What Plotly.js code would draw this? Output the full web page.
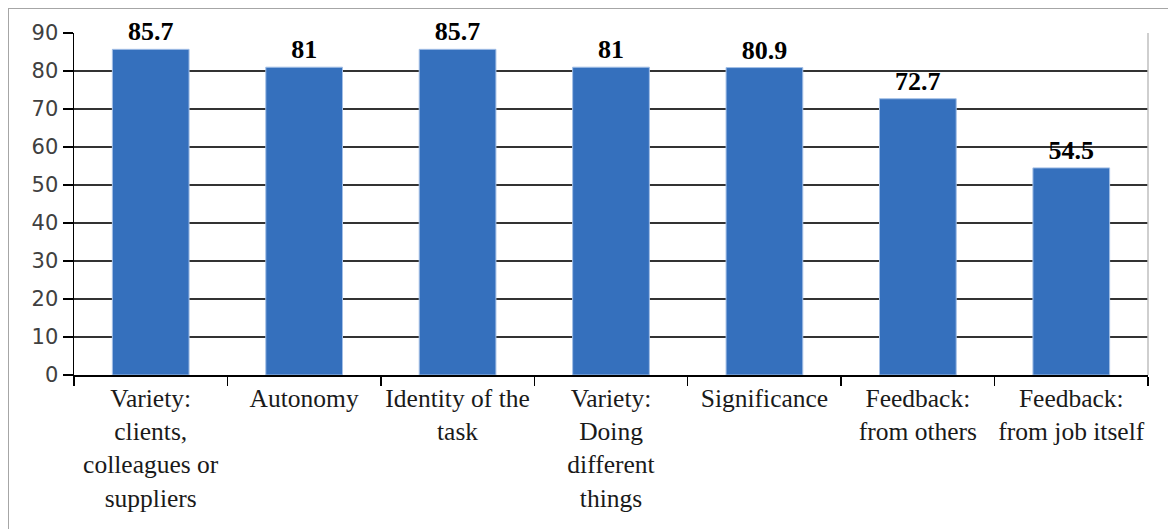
<!DOCTYPE html>
<html>
<head>
<meta charset="utf-8">
<script src="https://cdn.plot.ly/plotly-3.0.1.min.js"></script>
<style>
  body { margin: 0; overflow: hidden; background: #fff; }
  #graph { position: absolute; left: 0; top: 0; width: 1168px; height: 529px; }
  #frame { position: absolute; left: 8px; top: 8px; width: 1200px; height: 600px;
           border: 1px solid #a6a6a6; pointer-events: none; }
</style>
</head>
<body>
<div id="graph"></div>
<div id="frame"></div>
<script>
// categories (line breaks as on the original axis)
var categories = [
  'Variety:<br>clients,<br>colleagues or<br>suppliers',
  'Autonomy',
  'Identity of the<br>task',
  'Variety:<br>Doing<br>different<br>things',
  'Significance',
  'Feedback:<br>from others',
  'Feedback:<br>from job itself'
]
var values = [85.7, 81, 85.7, 81, 80.9, 72.7, 54.5]
var yTicks = [0, 10, 20, 30, 40, 50, 60, 70, 80, 90]

var trace_bars = {
  type: 'bar',
  x: categories,
  y: values,
  text: values.map(String),
  textposition: 'outside',
  cliponaxis: false,
  textfont: { family: 'Liberation Serif, serif', size: 26, color: '#000', weight: 'bold' },
  marker: { color: '#3570bd', line: { color: '#a3bfe6', width: 1 } },
  hoverinfo: 'skip'
}

var layout = {
  width: 1168,
  height: 529,
  margin: { l: 74, r: 20, t: 33, b: 154, pad: 0 },
  showlegend: false,
  bargap: 0.5,
  paper_bgcolor: 'rgba(255,255,255,0)',
  plot_bgcolor: '#fff',
  xaxis: {
    type: 'category',
    tickson: 'boundaries',
    tickangle: 0,
    ticks: 'outside',
    ticklen: 9,
    tickwidth: 1.5,
    tickcolor: '#000',
    showline: true,
    linecolor: '#000',
    linewidth: 1.5,
    showgrid: false,
    tickfont: { family: 'Liberation Serif, serif', size: 25.5, color: '#1a1a1a' }
  },
  yaxis: {
    range: [0, 90],
    tickvals: yTicks,
    ticks: 'outside',
    ticklen: 10,
    tickwidth: 1.5,
    tickcolor: '#000',
    showline: true,
    linecolor: '#000',
    linewidth: 1.5,
    showgrid: true,
    gridcolor: '#333',
    gridwidth: 1.6,
    zeroline: false,
    tickfont: { family: 'DejaVu Sans, sans-serif', size: 21, color: '#404040' }
  },
  shapes: [
    { type: 'line', xref: 'paper', yref: 'paper', x0: 1, x1: 1, y0: 0, y1: 1,
      line: { color: '#bfbfbf', width: 1.5 } }
  ]
}

Plotly.newPlot('graph', [trace_bars], layout, { displayModeBar: false, staticPlot: true })
</script>
</body>
</html>
